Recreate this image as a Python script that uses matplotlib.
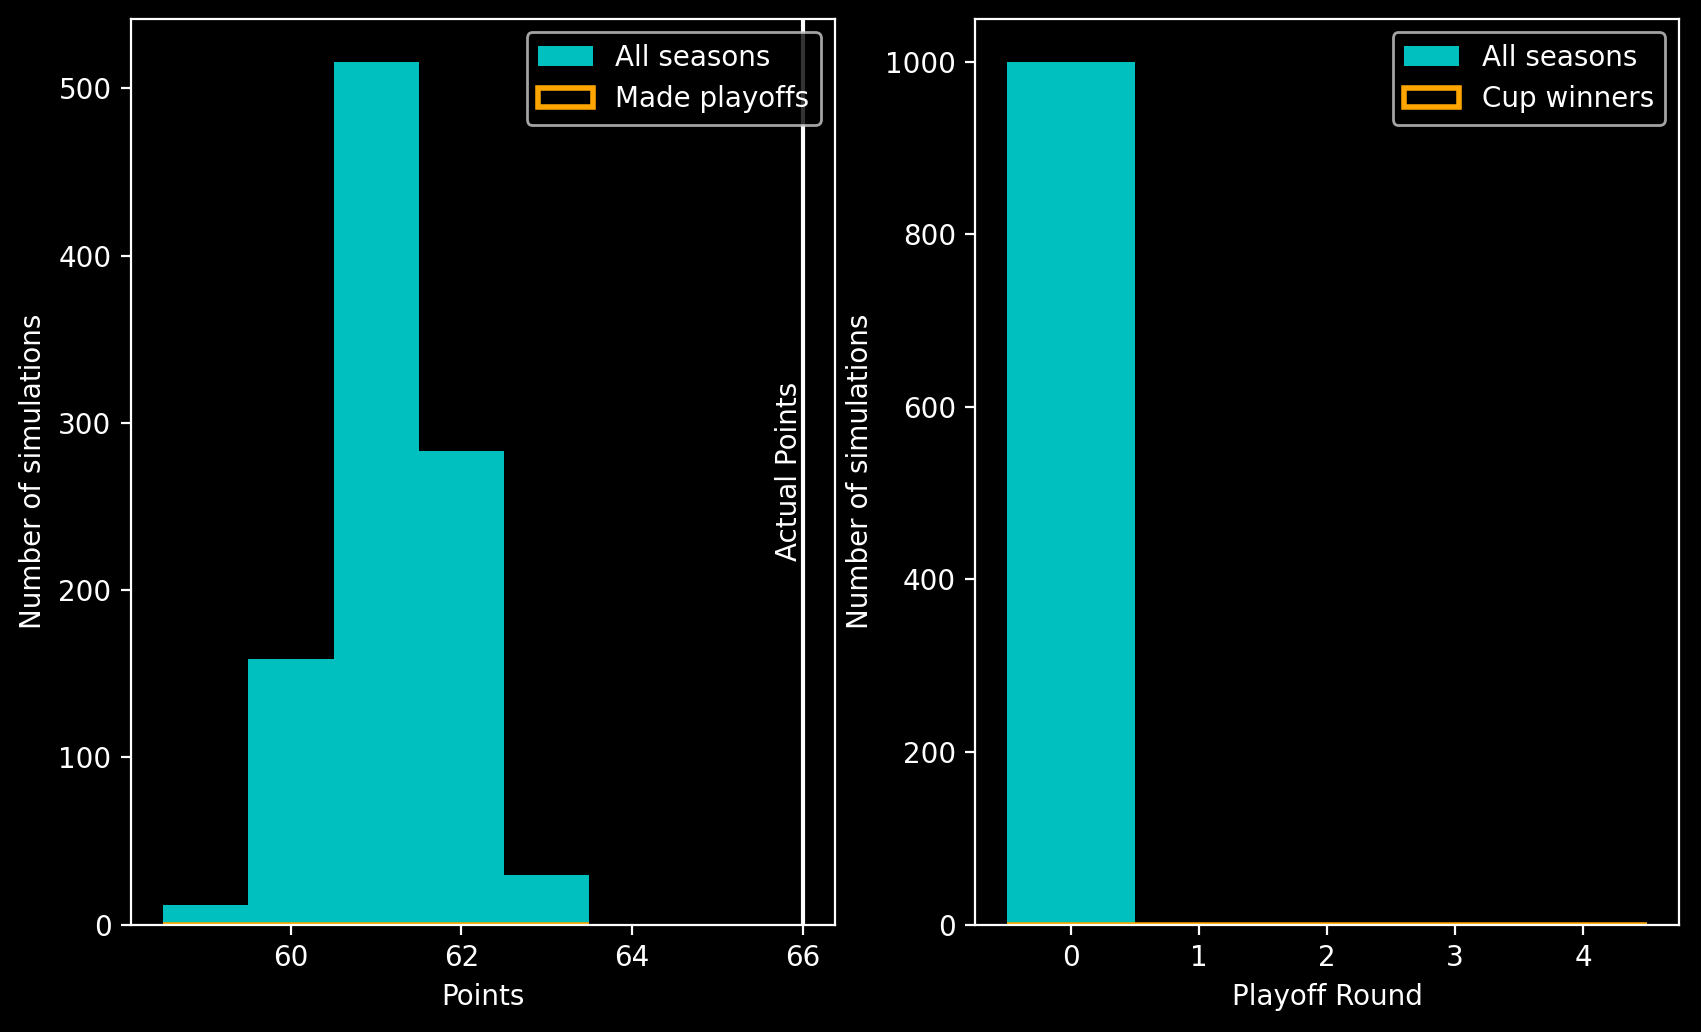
import matplotlib
matplotlib.use('Agg')
import matplotlib.pyplot as plt
import numpy as np

plt.style.use('dark_background')

# Season points histogram (1000 simulations)
point_bins = [58.5, 59.5, 60.5, 61.5, 62.5, 63.5]
point_counts = [12, 159, 516, 283, 30]
playoff_counts = [0, 0, 0, 0, 0]
actual_points = 66

# Playoff round reached
round_bins = [-0.5, 0.5, 1.5, 2.5, 3.5, 4.5]
round_counts = [1000, 0, 0, 0, 0]
cup_counts = [0, 0, 0, 0, 0]

fig, (ax1, ax2) = plt.subplots(1, 2, figsize=(8.505, 5.16), dpi=200)

centers = (np.array(point_bins[:-1]) + np.array(point_bins[1:])) / 2
ax1.hist(centers, bins=point_bins, weights=point_counts, color='c', label='All seasons')
ax1.hist(centers, bins=point_bins, weights=playoff_counts, histtype='step',
         color='orange', linewidth=2, label='Made playoffs')
ax1.axvline(actual_points, color='white', linewidth=1.5)
ax1.set_xlabel('Points')
ax1.set_ylabel('Number of simulations')
ax1.legend(loc='upper right')
ax1.text(actual_points, ax1.get_ylim()[1] / 2, 'Actual Points', rotation=90,
         ha='right', va='center')

rcenters = (np.array(round_bins[:-1]) + np.array(round_bins[1:])) / 2
ax2.hist(rcenters, bins=round_bins, weights=round_counts, color='c', label='All seasons')
ax2.hist(rcenters, bins=round_bins, weights=cup_counts, histtype='step',
         color='orange', linewidth=2, label='Cup winners')
ax2.set_xlabel('Playoff Round')
ax2.set_ylabel('Number of simulations')
ax2.legend(loc='upper right')

# reference was cropped tight, so margins are small
fig.subplots_adjust(left=0.077, right=0.987, bottom=0.104, top=0.982, wspace=0.2)
fig.savefig('out.png', dpi=200)
